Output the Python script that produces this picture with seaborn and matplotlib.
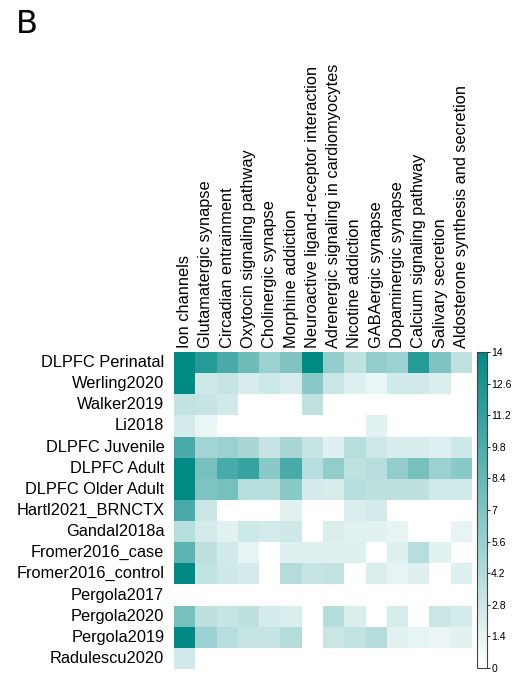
import numpy as np
import pandas as pd
import seaborn as sns
import matplotlib.pyplot as plt
from matplotlib.colors import LinearSegmentedColormap

nan = np.nan

datasets = [
    "DLPFC Perinatal", "Werling2020", "Walker2019", "Li2018", "DLPFC Juvenile",
    "DLPFC Adult", "DLPFC Older Adult", "Hartl2021_BRNCTX", "Gandal2018a",
    "Fromer2016_case", "Fromer2016_control", "Pergola2017", "Pergola2020",
    "Pergola2019", "Radulescu2020",
]

pathways = [
    "Ion channels", "Glutamatergic synapse", "Circadian entrainment",
    "Oxytocin signaling pathway", "Cholinergic synapse", "Morphine addiction",
    "Neuroactive ligand-receptor interaction",
    "Adrenergic signaling in cardiomyocytes", "Nicotine addiction",
    "GABAergic synapse", "Dopaminergic synapse", "Calcium signaling pathway",
    "Salivary secretion", "Aldosterone synthesis and secretion",
]

dlpfc_perinatal = [14, 12, 10, 8, 5.5, 7, 14, 6, 3.5, 6, 5.5, 12, 7, 3.5]
werling2020 = [14, 2.8, 3.2, 2.2, 2.8, 2.2, 6.5, 3, 1.8, 1.2, 2.6, 2.6, 2, nan]
walker2019 = [3.4, 3.2, 2.6, nan, nan, nan, 3.5, nan, nan, nan, nan, nan, nan, nan]
li2018 = [2.4, 1.2, nan, nan, nan, nan, nan, nan, nan, 1.6, nan, nan, nan, nan]
dlpfc_juvenile = [10, 5, 5.5, 4.8, 3.2, 4.8, 3.2, 1.8, 4, 2.8, 2.2, 2.2, 1.8, 2.8]
dlpfc_adult = [14, 7.5, 10, 11, 6.5, 10, 4, 6, 3.5, 4, 6, 7.5, 5.5, 6.5]
dlpfc_older_adult = [14, 7, 7.5, 4, 4, 6.5, 2.4, 2.2, 4, 3.6, 3.6, 3.6, 2.6, 2.6]
hartl2021 = [10, 3, nan, nan, nan, 1.6, nan, nan, 2, 2.4, nan, nan, nan, nan]
gandal2018a = [4, 2.4, 1.6, 2.8, 2.4, 2.8, nan, 2, 1.6, 1.6, 1.4, nan, nan, 1.4]
fromer2016_case = [9, 3.6, 2.6, 1.4, nan, 1.8, 1.8, 1.8, 1.8, nan, 1.8, 4, 1.6, nan]
fromer2016_control = [14, 3.4, 2.8, 2.4, nan, 4.2, 3.2, 3.4, nan, 2, 1.4, 1.8, nan, 1.8]
pergola2017 = [nan] * 14
pergola2020 = [7.5, 3.6, 3.2, 3.6, 2.4, 2, nan, 4.2, 2, nan, 2.2, nan, 3, 2.4]
pergola2019 = [14, 5.5, 4, 3.2, 3.2, 4.2, nan, 3, 3.4, 4.2, 1.6, 1.4, 1.2, 1.6]
radulescu2020 = [2.6] + [nan] * 13

cbar_ticks = [0, 1.4, 2.8, 4.2, 5.6, 7, 8.4, 9.8, 11.2, 12.6, 14]
cbar_ticklabels = ["0", "1.4", "2.8", "4.2", "5.6", "7", "8.4", "9.8", "11.2", "12.6", "14"]

rows = [
    dlpfc_perinatal, werling2020, walker2019, li2018, dlpfc_juvenile,
    dlpfc_adult, dlpfc_older_adult, hartl2021, gandal2018a, fromer2016_case,
    fromer2016_control, pergola2017, pergola2020, pergola2019, radulescu2020,
]
df = pd.DataFrame(rows, index=datasets, columns=pathways)

sns.set_style("white")
plt.rcParams["font.family"] = ["Liberation Sans", "DejaVu Sans"]
plt.rcParams["text.color"] = "black"
plt.rcParams["xtick.color"] = "black"
plt.rcParams["ytick.color"] = "black"

cmap = LinearSegmentedColormap.from_list("teal", ["#ffffff", "#008a86"])

W, H = 517, 675
fig = plt.figure(figsize=(W / 100, H / 100), dpi=100)
ax = fig.add_axes([174 / W, 1 - 669 / H, 298 / W, 317 / H])
cax = fig.add_axes([477 / W, 1 - 668 / H, 10 / W, 316 / H])

sns.heatmap(df, ax=ax, cmap=cmap, vmin=0, vmax=14, cbar_ax=cax,
            xticklabels=True, yticklabels=True, square=False)

ax.xaxis.tick_top()
ax.set_xticklabels(pathways, rotation=90, fontsize=11.8, ha="center", va="bottom")
ax.set_yticklabels(datasets, rotation=0, fontsize=11.8)
ax.tick_params(axis="x", length=0, pad=3)
ax.tick_params(axis="y", length=0, pad=7)
ax.set_xlabel("")
ax.set_ylabel("")

cbar = ax.collections[0].colorbar
cbar.set_ticks(cbar_ticks)
cbar.set_ticklabels(cbar_ticklabels)
cbar.ax.tick_params(labelsize=7.5, length=2, width=0.6, pad=1)
cbar.outline.set_visible(True)
cbar.outline.set_edgecolor("#444444")
cbar.outline.set_linewidth(0.8)

fig.text(16 / W, 1 - 33 / H, "B", fontsize=23, family="DejaVu Sans", ha="left", va="baseline")

fig.savefig("out.png", dpi=100)
